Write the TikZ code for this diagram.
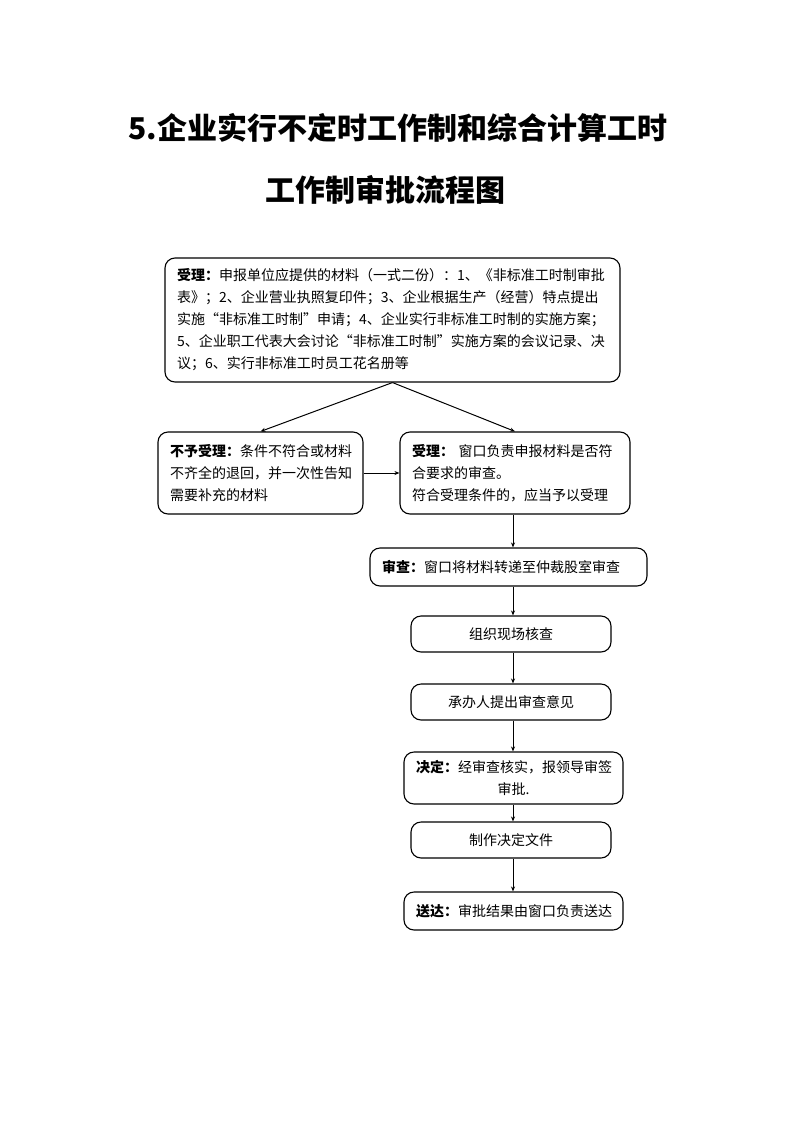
\documentclass[tikz,border=0pt]{standalone}
\usepackage{fontspec}
\setmainfont{Noto Sans CJK SC}
\usetikzlibrary{arrows.meta, positioning}
\tikzset{
  step box/.style={draw, line width=1.1pt, rounded corners=10pt, inner xsep=12pt, inner ysep=0pt,
    font=\fontsize{14}{22}\selectfont, align=left},
  mid box/.style={step box, align=center},
  flow/.style={->, line width=1pt}
}

\begin{document}
\begin{tikzpicture}[x=1pt, y=-1pt, >={Stealth[length=5pt, width=4pt]}]

% Page
\useasboundingbox (0,0) rectangle (793,1122);

% Title
\node[font=\fontsize{30}{36}\selectfont\bfseries] (title1) at (398,128)
  {5.企业实行不定时工作制和综合计算工时};
\node[font=\fontsize{30}{36}\selectfont\bfseries] (title2) at (385,190)
  {工作制审批流程图};

% Materials
\node[step box, text width=431pt, minimum height=124pt] (cailiao) at (392.5,320)
  {\textbf{受理：}申报单位应提供的材料（一式二份）：1、《非标准工时制审批\\
   表》；2、企业营业执照复印件；3、企业根据生产（经营）特点提出\\
   实施“非标准工时制”申请；4、企业实行非标准工时制的实施方案；\\
   5、企业职工代表大会讨论“非标准工时制”实施方案的会议记录、决\\
   议；6、实行非标准工时员工花名册等};

% Accept / reject
\node[step box, text width=181pt, minimum height=82pt] (buyu) at (260.5,473)
  {\textbf{不予受理：}条件不符合或材料\\不齐全的退回，并一次性告知\\需要补充的材料};
\node[step box, text width=206pt, minimum height=82pt] (shouli) at (515,473)
  {\textbf{受理：} 窗口负责申报材料是否符\\合要求的审查。\\符合受理条件的，应当予以受理};

% Review chain
\node[step box, text width=253pt, minimum height=38pt] (shencha) at (508.5,567)
  {\textbf{审查：}窗口将材料转递至仲裁股室审查};
\node[mid box, text width=176pt, minimum height=36pt] (hecha) at (511,634)
  {组织现场核查};
\node[mid box, text width=176pt, minimum height=36pt] (yijian) at (511,702)
  {承办人提出审查意见};
\node[mid box, text width=195pt, minimum height=52pt] (jueding) at (513.5,778)
  {\textbf{决定：}经审查核实，报领导审签\\审批.};
\node[mid box, text width=176pt, minimum height=36pt] (zhizuo) at (511,840)
  {制作决定文件};
\node[mid box, text width=195pt, minimum height=38pt] (songda) at (513.5,911)
  {\textbf{送达：}审批结果由窗口负责送达};

% Connectors
\coordinate (axis) at (513,0);
\draw[flow] (cailiao.south) -- (buyu.north);
\draw[flow] (cailiao.south) -- (shouli.north);
\draw[flow] (buyu.east) -- (shouli.west);
\draw[flow] (shouli.south -| axis) -- (shencha.north -| axis);
\draw[flow] (shencha.south -| axis) -- (hecha.north -| axis);
\draw[flow] (hecha.south -| axis) -- (yijian.north -| axis);
\draw[flow] (yijian.south -| axis) -- (jueding.north -| axis);
\draw[flow] (jueding.south -| axis) -- (zhizuo.north -| axis);
\draw[flow] (zhizuo.south -| axis) -- (songda.north -| axis);

\end{tikzpicture}
\end{document}
